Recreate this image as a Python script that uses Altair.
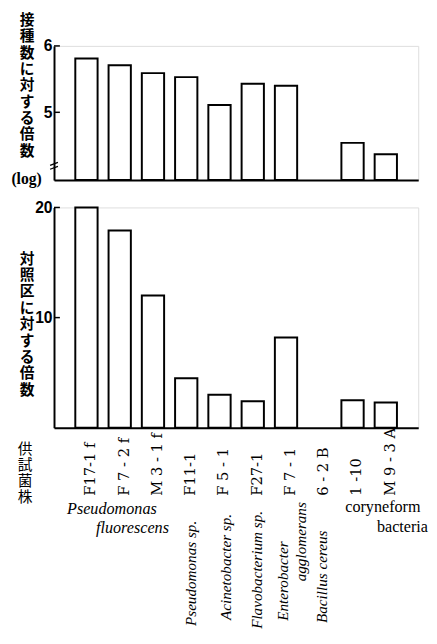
import altair as alt
import pandas as pd

# ---- data ----
strains = ["F17-1 f", "F 7 - 2 f", "M 3 - 1 f", "F11-1", "F 5 - 1",
           "F27-1", "F 7 - 1", "6 - 2 B", "1 -10", "M 9 - 3 A"]
log_ratio = [5.81, 5.71, 5.59, 5.53, 5.11, 5.43, 5.40, None, 4.54, 4.37]
control_ratio = [20.0, 17.9, 12.0, 4.5, 3.0, 2.4, 8.2, None, 2.5, 2.3]
top_ticks = [5, 6]
bottom_ticks = [10, 20]

top_title = ["接", "種", "数", "に", "対", "す", "る", "倍", "数"]
bottom_title = ["対", "照", "区", "に", "対", "す", "る", "倍", "数"]
x_title = ["供", "試", "菌", "株"]

df = pd.DataFrame({"strain": strains, "log": log_ratio, "ctrl": control_ratio})

W = 372
LOG_MIN = 3.98
HALF_BAND = 11.4  # xOffset is measured from the band start

xscale = alt.Scale(domain=strains, paddingInner=0.33, paddingOuter=0.64)
top_yscale = alt.Scale(domain=[LOG_MIN, 6], zero=False, nice=False)
bot_yscale = alt.Scale(domain=[0, 20], nice=False)

bar_style = dict(fill="white", stroke="black", strokeWidth=2, strokeJoin="miter")
ylab = dict(labelFont="Liberation Sans", labelFontWeight="bold", labelFontSize=16,
            labelColor="black", ticks=False, format="d",
            domainColor="black", domainWidth=2, grid=False, labelPadding=2,
            titleAngle=0, titleAlign="center", titleBaseline="line-top",
            titleFont="Noto Sans CJK JP", titleFontWeight="bold", titleFontSize=15,
            titleLineHeight=16.7, titleColor="black")

# ---------------- top panel ----------------
top_x = alt.X("strain:N", scale=xscale,
              axis=alt.Axis(labels=False, ticks=False, title=None,
                            domainColor="black", domainWidth=2))
top_y_axis = alt.Axis(values=top_ticks, title=top_title, titleX=-28, titleY=-35, **ylab)
top_bars = alt.Chart(df).transform_filter(
    "isValid(datum.log) && isFinite(datum.log)"
).mark_bar(**bar_style).encode(
    x=top_x,
    y=alt.Y("log:Q", scale=top_yscale, axis=top_y_axis),
    y2=alt.datum(LOG_MIN),
)
top_tickmarks = alt.Chart(pd.DataFrame({"log": top_ticks})).mark_rule(
    color="black", strokeWidth=1.5
).encode(y=alt.Y("log:Q", scale=top_yscale, axis=top_y_axis), x=alt.value(0), x2=alt.value(6))
log_txt = alt.Chart(alt.Data(values=[{}])).mark_text(
    text="(log)", font="Liberation Serif", fontWeight="bold", fontSize=16,
    align="center", baseline="middle", color="black"
).encode(x=alt.value(-28), y=alt.value(136))
brk1 = alt.Chart(alt.Data(values=[{}])).mark_rule(color="black", strokeWidth=1.3).encode(
    x=alt.value(-4), x2=alt.value(4), y=alt.value(122), y2=alt.value(119))
brk2 = alt.Chart(alt.Data(values=[{}])).mark_rule(color="black", strokeWidth=1.3).encode(
    x=alt.value(-4), x2=alt.value(4), y=alt.value(126), y2=alt.value(123))
top = alt.layer(top_bars, top_tickmarks, log_txt, brk1, brk2).properties(width=W, height=137)

# ---------------- bottom panel ----------------
bot_xaxis = alt.Axis(labelAngle=270, labelAlign="left", labelBaseline="middle",
                     labelPadding=69, labelOffset=4, labelFont="DejaVu Serif",
                     labelFontSize=15, labelColor="black", labelOverlap=False,
                     labelBound=False, ticks=False, domainColor="black", domainWidth=2,
                     title=x_title, titleAngle=0, titleX=-30, titleY=14,
                     titleAlign="center", titleBaseline="top", titleFont="Noto Sans CJK JP",
                     titleFontSize=15, titleFontWeight="normal", titleLineHeight=16.5,
                     titleColor="black")
bot_x = alt.X("strain:N", scale=xscale, axis=bot_xaxis)

bot_y_axis = alt.Axis(values=bottom_ticks, title=bottom_title, titleX=-28, titleY=44, **ylab)
bot_bars = alt.Chart(df).transform_filter(
    "isValid(datum.ctrl) && isFinite(datum.ctrl)"
).mark_bar(**bar_style).encode(
    x=bot_x,
    y=alt.Y("ctrl:Q", scale=bot_yscale, axis=bot_y_axis),
)
bot_tickmarks = alt.Chart(pd.DataFrame({"ctrl": bottom_ticks})).mark_rule(
    color="black", strokeWidth=1.5
).encode(y=alt.Y("ctrl:Q", scale=bot_yscale, axis=bot_y_axis), x=alt.value(0), x2=alt.value(6))

def note(strain, label, y, dx, angle, italic=True, align="center", size=15.5):
    props = dict(font="Liberation Serif", fontSize=size, color="black",
                 baseline="middle", align=align, angle=angle)
    if italic:
        props["fontStyle"] = "italic"
    return alt.Chart(alt.Data(values=[{"strain": strain, "label": label}])).mark_text(
        **props
    ).encode(x=bot_x, xOffset=alt.value(HALF_BAND + dx), y=alt.value(y), text="label:N")

notes = [
    note(strains[1], "Pseudomonas", 308, -8, 0, size=16.5),
    note(strains[1], "fluorescens", 328, 13, 0, size=16.5),
    note(strains[9], "coryneform", 306, -3, 0, italic=False, size=16.5),
    note(strains[9], "bacteria", 326, 17, 0, italic=False, size=16.5),
    note(strains[3], "Pseudomonas sp.", 320, 5, 270, align="right"),
    note(strains[4], "Acinetobacter sp.", 313, 7, 270, align="right"),
    note(strains[5], "Flavobacterium sp.", 310, 4, 270, align="right"),
    note(strains[6], "Enterobacter", 341, -3, 270, align="right"),
    note(strains[6], "agglomerans", 301, 15, 270, align="right"),
    note(strains[7], "Bacillus cereus", 330, 3, 270, align="right"),
]

bottom = alt.layer(bot_bars, bot_tickmarks, *notes).properties(width=W, height=225)

chart = alt.vconcat(top, bottom, spacing=28, bounds="flush").properties(
    padding={"left": 2, "top": -3, "right": 0, "bottom": 0}
).configure_view(stroke=None).configure(background="white")

chart.save("out.html", embed_options={"renderer": "svg", "actions": False})
